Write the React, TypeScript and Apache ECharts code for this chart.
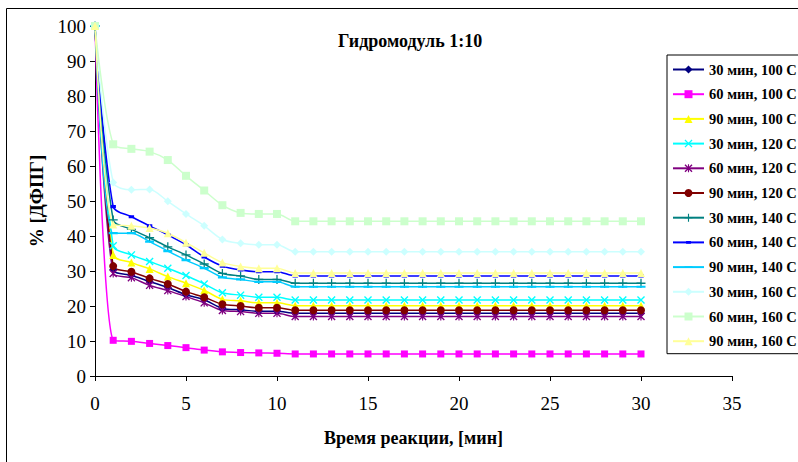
import React, { useEffect, useRef } from "react";
import * as echarts from "echarts";

const FONT = '"Liberation Serif", "Times New Roman", serif';

const minutes = [0, 1, 2, 3, 4, 5, 6, 7, 8, 9, 10, 11, 12, 13, 14, 15, 16, 17, 18, 19, 20, 21, 22, 23, 24, 25, 26, 27, 28, 29, 30];

const seriesNames = [
  "30 мин, 100 С",
  "60 мин, 100 С",
  "90 мин, 100 С",
  "30 мин, 120 С",
  "60 мин, 120 С",
  "90 мин, 120 С",
  "30 мин, 140 С",
  "60 мин, 140 С",
  "90 мин, 140 С",
  "30 мин, 160 С",
  "60 мин, 160 С",
  "90 мин, 160 С",
];

const s30m100 = [100, 30.4, 28.8, 27.0, 25.3, 23.2, 21.8, 19.3, 18.9, 18.5, 18.5, 17.9, 17.9, 17.9, 17.9, 17.9, 17.9, 17.9, 17.9, 17.9, 17.9, 17.9, 17.9, 17.9, 17.9, 17.9, 17.9, 17.9, 17.9, 17.9, 17.9];
const s60m100 = [100, 10.2, 9.9, 9.3, 8.7, 8.1, 7.4, 6.9, 6.7, 6.6, 6.5, 6.3, 6.3, 6.3, 6.3, 6.3, 6.3, 6.3, 6.3, 6.3, 6.3, 6.3, 6.3, 6.3, 6.3, 6.3, 6.3, 6.3, 6.3, 6.3, 6.3];
const s90m100 = [100, 34.6, 32.4, 30.6, 28.4, 26.5, 24.5, 21.9, 21.5, 20.9, 20.9, 20.1, 20.1, 20.1, 20.1, 20.1, 20.1, 20.1, 20.1, 20.1, 20.1, 20.1, 20.1, 20.1, 20.1, 20.1, 20.1, 20.1, 20.1, 20.1, 20.1];
const s30m120 = [100, 37.2, 34.6, 32.7, 30.8, 28.7, 26.3, 23.8, 23.1, 22.5, 22.5, 21.7, 21.7, 21.7, 21.7, 21.7, 21.7, 21.7, 21.7, 21.7, 21.7, 21.7, 21.7, 21.7, 21.7, 21.7, 21.7, 21.7, 21.7, 21.7, 21.7];
const s60m120 = [100, 29.3, 28.1, 25.9, 24.4, 22.7, 20.9, 18.7, 18.4, 17.9, 17.9, 17.0, 17.0, 17.0, 17.0, 17.0, 17.0, 17.0, 17.0, 17.0, 17.0, 17.0, 17.0, 17.0, 17.0, 17.0, 17.0, 17.0, 17.0, 17.0, 17.0];
const s90m120 = [100, 31.4, 29.8, 27.9, 26.3, 24.1, 22.5, 20.5, 20.0, 19.5, 19.5, 18.8, 18.8, 18.8, 18.8, 18.8, 18.8, 18.8, 18.8, 18.8, 18.8, 18.8, 18.8, 18.8, 18.8, 18.8, 18.8, 18.8, 18.8, 18.8, 18.8];
const s30m140 = [100, 44.6, 41.9, 39.5, 36.9, 34.6, 32.0, 29.3, 28.6, 27.6, 27.6, 26.5, 26.5, 26.5, 26.5, 26.5, 26.5, 26.5, 26.5, 26.5, 26.5, 26.5, 26.5, 26.5, 26.5, 26.5, 26.5, 26.5, 26.5, 26.5, 26.5];
const s60m140 = [100, 48.4, 45.5, 42.9, 40.3, 37.5, 34.0, 31.4, 30.3, 29.8, 29.8, 28.6, 28.6, 28.6, 28.6, 28.6, 28.6, 28.6, 28.6, 28.6, 28.6, 28.6, 28.6, 28.6, 28.6, 28.6, 28.6, 28.6, 28.6, 28.6, 28.6];
const s90m140 = [100, 40.8, 40.8, 38.4, 35.7, 33.1, 30.8, 28.2, 27.6, 26.9, 26.9, 25.5, 25.5, 25.5, 25.5, 25.5, 25.5, 25.5, 25.5, 25.5, 25.5, 25.5, 25.5, 25.5, 25.5, 25.5, 25.5, 25.5, 25.5, 25.5, 25.5];
const s30m160 = [100, 55.3, 53.2, 53.3, 49.9, 46.3, 42.9, 39.0, 37.9, 37.5, 37.5, 35.5, 35.5, 35.5, 35.5, 35.5, 35.5, 35.5, 35.5, 35.5, 35.5, 35.5, 35.5, 35.5, 35.5, 35.5, 35.5, 35.5, 35.5, 35.5, 35.5];
const s60m160 = [100, 66.2, 64.9, 64.1, 61.7, 57.2, 53.0, 48.8, 46.6, 46.3, 46.3, 44.2, 44.2, 44.2, 44.2, 44.2, 44.2, 44.2, 44.2, 44.2, 44.2, 44.2, 44.2, 44.2, 44.2, 44.2, 44.2, 44.2, 44.2, 44.2, 44.2];
const s90m160 = [100, 43.3, 42.9, 42.3, 40.8, 38.1, 35.2, 32.4, 31.3, 30.8, 30.8, 29.4, 29.4, 29.4, 29.4, 29.4, 29.4, 29.4, 29.4, 29.4, 29.4, 29.4, 29.4, 29.4, 29.4, 29.4, 29.4, 29.4, 29.4, 29.4, 29.4];

const seriesValues = [s30m100, s60m100, s90m100, s30m120, s60m120, s90m120, s30m140, s60m140, s90m140, s30m160, s60m160, s90m160];

const seriesColors = ["#000080", "#FF00FF", "#FFFF00", "#00FFFF", "#800080", "#800000", "#008080", "#0000FF", "#00CCFF", "#CCFFFF", "#CCFFCC", "#FFFF99"];

const X_PATH = "path://M0,1.2 L1.2,0 L5,3.8 L8.8,0 L10,1.2 L6.2,5 L10,8.8 L8.8,10 L5,6.2 L1.2,10 L0,8.8 L3.8,5 Z";
const STAR_PATH = "path://M0,1.2 L1.2,0 L5,3.8 L8.8,0 L10,1.2 L6.2,5 L10,8.8 L8.8,10 L5,6.2 L1.2,10 L0,8.8 L3.8,5 Z M4.3,0 L5.7,0 L5.7,10 L4.3,10 Z";
const PLUS_PATH = "path://M4.3,0 L5.7,0 L5.7,4.3 L10,4.3 L10,5.7 L5.7,5.7 L5.7,10 L4.3,10 L4.3,5.7 L0,5.7 L0,4.3 L4.3,4.3 Z";
// Dash markers: tiny invisible corner specks keep the box square so the bar stays flat in the legend too.
const SHORT_DASH_PATH = "path://M0,0 L0.01,0 L0,0.01 Z M10,10 L9.99,10 L10,9.99 Z M2,3.3 L8,3.3 L8,6.7 L2,6.7 Z";
const LONG_DASH_PATH = "path://M0,0 L0.01,0 L0,0.01 Z M10,10 L9.99,10 L10,9.99 Z M0,3.8 L10,3.8 L10,6.2 L0,6.2 Z";

const seriesSymbols: any[] = ["diamond", "rect", "triangle", X_PATH, STAR_PATH, "circle", PLUS_PATH, SHORT_DASH_PATH, LONG_DASH_PATH, "diamond", "rect", "triangle"];
const seriesSymbolSizes: any[] = [8, 7, 8, 8, 8, 8, 9, 9, 9, 8, 8, 8];

export default function App() {
  const ref = useRef<HTMLDivElement>(null);

  useEffect(() => {
    if (!ref.current) return;
    const chart = echarts.init(ref.current, undefined, { renderer: "svg" });

    const series = seriesNames.map((name, i) => ({
      name,
      type: "line",
      data: minutes.map((m, j) => [m, seriesValues[i][j]]),
      smooth: 0.3,
      symbol: seriesSymbols[i],
      symbolSize: seriesSymbolSizes[i],
      showAllSymbol: true,
      color: seriesColors[i],
      lineStyle: { color: seriesColors[i], width: 1.5 },
      itemStyle: { color: seriesColors[i] },
      emphasis: { disabled: true },
    }));

    const option: any = {
      animation: false,
      backgroundColor: "#ffffff",
      textStyle: { fontFamily: FONT },
      title: {
        text: "Гидромодуль 1:10",
        left: 333,
        top: 27,
        textStyle: { fontFamily: FONT, fontWeight: "bold", fontSize: 18, color: "#000" },
      },
      legend: {
        orient: "vertical",
        left: 667,
        top: 55,
        padding: [7, 40, 5, 5],
        itemGap: 9.7,
        itemWidth: 31,
        itemHeight: 10,
        borderColor: "#000",
        borderWidth: 1,
        data: seriesNames,
        textStyle: { fontFamily: FONT, fontWeight: "bold", fontSize: 14.5, color: "#000", lineHeight: 15 },
      },
      grid: { left: 95, top: 26, width: 637, height: 350, containLabel: false },
      xAxis: {
        type: "value",
        min: 0,
        max: 35,
        interval: 5,
        name: "Время реакции, [мин]",
        nameLocation: "middle",
        nameGap: 53,
        nameTextStyle: { fontFamily: FONT, fontWeight: "bold", fontSize: 18, color: "#000" },
        axisLine: { show: true, lineStyle: { color: "#000", width: 1 } },
        axisTick: { show: true, length: 5, lineStyle: { color: "#000" } },
        axisLabel: { margin: 18, fontSize: 19, color: "#000", fontFamily: FONT },
        splitLine: { show: false },
      },
      yAxis: {
        type: "value",
        min: 0,
        max: 100,
        interval: 10,
        name: "% [ДФПГ]",
        nameLocation: "middle",
        nameGap: 49,
        nameRotate: 90,
        nameTextStyle: { fontFamily: FONT, fontWeight: "bold", fontSize: 19, color: "#000" },
        axisLine: { show: true, lineStyle: { color: "#000", width: 1 } },
        axisTick: { show: true, length: 5, lineStyle: { color: "#000" } },
        axisLabel: { margin: 9, fontSize: 19, color: "#000", fontFamily: FONT },
        splitLine: { show: false },
      },
      graphic: [
        {
          type: "rect",
          silent: true,
          shape: { x: 6.5, y: 8.5, width: 840, height: 500 },
          style: { fill: "none", stroke: "#000", lineWidth: 1 },
        },
      ],
      series,
    };

    chart.setOption(option);
    return () => chart.dispose();
  }, []);

  return (
    <div
      ref={ref}
      style={{ position: "absolute", left: 0, top: 0, width: 798, height: 462, background: "#fff" }}
    />
  );
}
